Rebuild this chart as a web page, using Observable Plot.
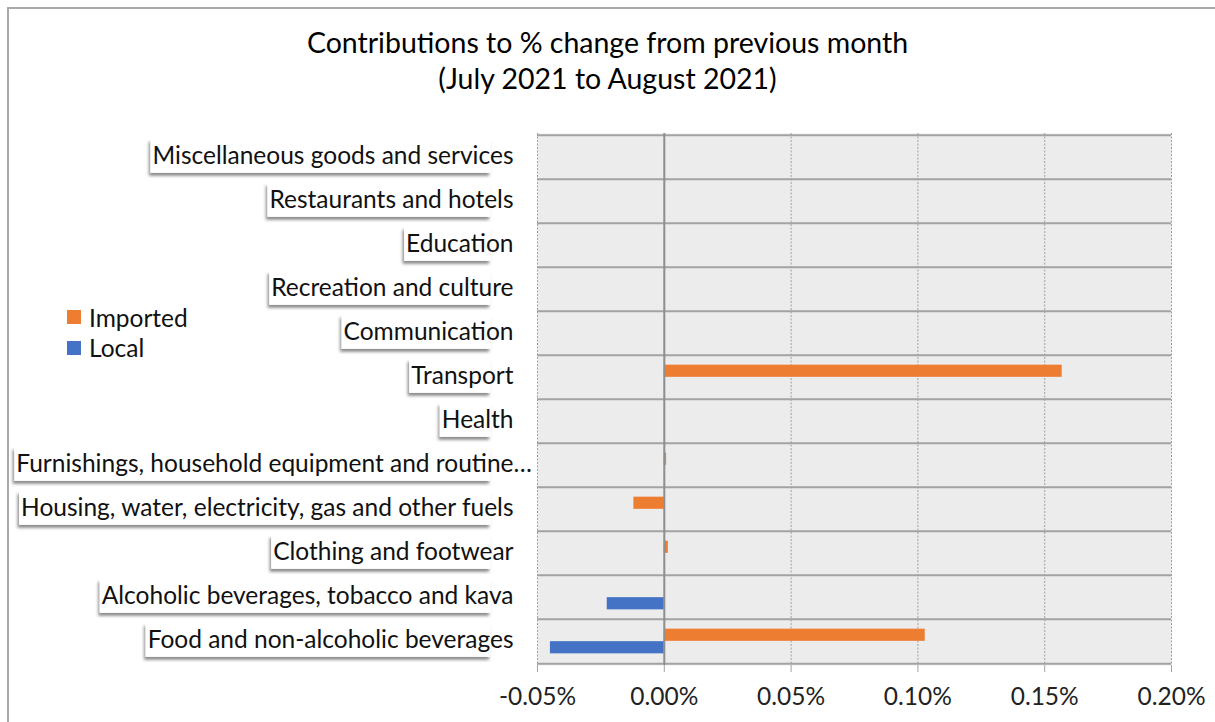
<!DOCTYPE html>
<html>
<head>
<meta charset="utf-8">
<script src="https://cdn.jsdelivr.net/npm/d3@7"></script>
<script src="https://cdn.jsdelivr.net/npm/@observablehq/plot@0.6"></script>
<style>
  html, body { margin: 0; padding: 0; background: #fff; overflow: hidden; }
  body { width: 1215px; height: 722px; position: relative; font-family: Lato, "Open Sans", sans-serif; }
  #frame { position: absolute; left: 7px; top: 7px; width: 1300px; height: 800px; border-left: 2px solid #a9a9a9; border-top: 2px solid #a9a9a9; }
  #chart { position: absolute; left: 0; top: 0; }
  #title { position: absolute; left: 0; top: 24px; width: 1215px; text-align: center; font-size: 28.5px; line-height: 36px; color: #000; }
  #legend { position: absolute; left: 67px; top: 302px; font-size: 24.5px; color: #111; }
  #legend .row { display: flex; align-items: center; height: 30.5px; }
  #legend .sw { width: 14px; height: 14px; margin-right: 8px; }
</style>
</head>
<body>
<div id="frame"></div>
<div id="chart"></div>
<div id="title"></div>
<div id="legend"></div>
<script>
const titleLines = ["Contributions to % change from previous month", "(July 2021 to August 2021)"];
const categories = [
  "Miscellaneous goods and services",
  "Restaurants and hotels",
  "Education",
  "Recreation and culture",
  "Communication",
  "Transport",
  "Health",
  "Furnishings, household equipment and routine…",
  "Housing, water, electricity, gas and other fuels",
  "Clothing and footwear",
  "Alcoholic beverages, tobacco and kava",
  "Food and non-alcoholic beverages"
];
const seriesNames = ["Imported", "Local"];
const seriesColors = ["#ED7D31", "#4472C4"];
const imported = [0, 0, 0, 0, 0, 0.1569, 0, 0.0009, -0.0120, 0.0016, 0, 0.1029];
const local =    [0, 0, 0, 0, 0, 0, 0, 0, 0, 0, -0.0225, -0.0449];
const xTicks = [-0.05, 0, 0.05, 0.10, 0.15, 0.20];

const rows = categories.flatMap((c, i) => [
  {category: c, series: seriesNames[0], value: imported[i]},
  {category: c, series: seriesNames[1], value: local[i]}
]);

const W = 1215, H = 722, mt = 133, mb = 57, ml = 537, mr = 44;
const bw = (H - mt - mb) / categories.length;
const barH = 12.5;
const outer = bw / 2 - barH;

const plot = Plot.plot({
  width: W, height: H,
  marginTop: mt, marginBottom: mb, marginLeft: ml, marginRight: mr,
  style: {background: "transparent", fontFamily: "Lato, 'Open Sans', sans-serif", color: "#222", overflow: "visible"},
  x: {domain: [xTicks[0], xTicks[xTicks.length - 1]]},
  y: {domain: categories, padding: 0, axis: null},
  marks: [
    Plot.frame({fill: "#ececec", stroke: null}),
    Plot.ruleY(categories, {y: d => d, dy: -bw / 2, stroke: "#a3a3a3", strokeWidth: 2}),
    Plot.ruleY([categories[categories.length - 1]], {y: d => d, dy: bw / 2, stroke: "#a3a3a3", strokeWidth: 2}),
    Plot.ruleX(xTicks.filter(d => d !== 0), {x: d => d, stroke: "#a0a0a0", strokeWidth: 1, strokeDasharray: "2,1.5"}),
    Plot.barX(rows.filter(d => d.series === seriesNames[0]), {y: "category", x: "value", fill: seriesColors[0], insetTop: outer, insetBottom: bw / 2}),
    Plot.barX(rows.filter(d => d.series === seriesNames[1]), {y: "category", x: "value", fill: seriesColors[1], insetTop: bw / 2, insetBottom: outer}),
    Plot.ruleX([0], {stroke: "#8e8e8e", strokeWidth: 2}),
    Plot.axisX({ticks: xTicks, tickFormat: d => d.toFixed(2) + "%", tickSize: 7, tickPadding: 15, stroke: "#a3a3a3", fontSize: 24.5, fill: "#222", label: null}),
    Plot.text(categories, {y: d => d, frameAnchor: "left", textAnchor: "end", dx: -24, dy: -1, fontSize: 24.5, fill: "#111"})
  ]
});
document.getElementById("chart").appendChild(plot);

// title
d3.select("#title").selectAll("div").data(titleLines).join("div").text(d => d);

// drop shadow filter for label boxes
const svg = d3.select(plot);
const defs = svg.insert("defs", ":first-child");
const f = defs.append("filter").attr("id", "lblshadow").attr("x", "-10%").attr("y", "-30%").attr("width", "120%").attr("height", "180%");
f.append("feDropShadow").attr("dx", -1.5).attr("dy", 3).attr("stdDeviation", 1.6).attr("flood-color", "#000").attr("flood-opacity", 0.45);

const labelRight = ml - 24;
svg.selectAll('g[aria-label="text"] text').each(function() {
  const t = this;
  const s = t.textContent;
  if (s.endsWith("…")) {
    const w = t.getSubStringLength(s.length - 1, 1);
    const tr = t.getAttribute("transform") || "";
    t.setAttribute("transform", tr + ` translate(${w},0)`);
  }
  const b = t.getBBox();
  const parent = t.parentNode;
  const m = parent.getCTM().inverse().multiply(t.getCTM());
  const x0 = b.x * m.a + m.e - 2;
  const cy = (b.y + b.height / 2) * m.d + m.f;
  const x1 = Math.min((b.x + b.width) * m.a + m.e + 1, labelRight + 1);
  const boxH = 34;
  d3.select(parent).insert("rect", () => t)
    .attr("x", x0).attr("y", cy - boxH / 2 + 1)
    .attr("width", x1 - x0).attr("height", boxH)
    .attr("fill", "#fff").attr("filter", "url(#lblshadow)");
});

// legend
const lg = d3.select("#legend");
seriesNames.forEach((n, i) => {
  const r = lg.append("div").attr("class", "row");
  r.append("div").attr("class", "sw").style("background", seriesColors[i]);
  r.append("span").text(n);
});
</script>
</body>
</html>
